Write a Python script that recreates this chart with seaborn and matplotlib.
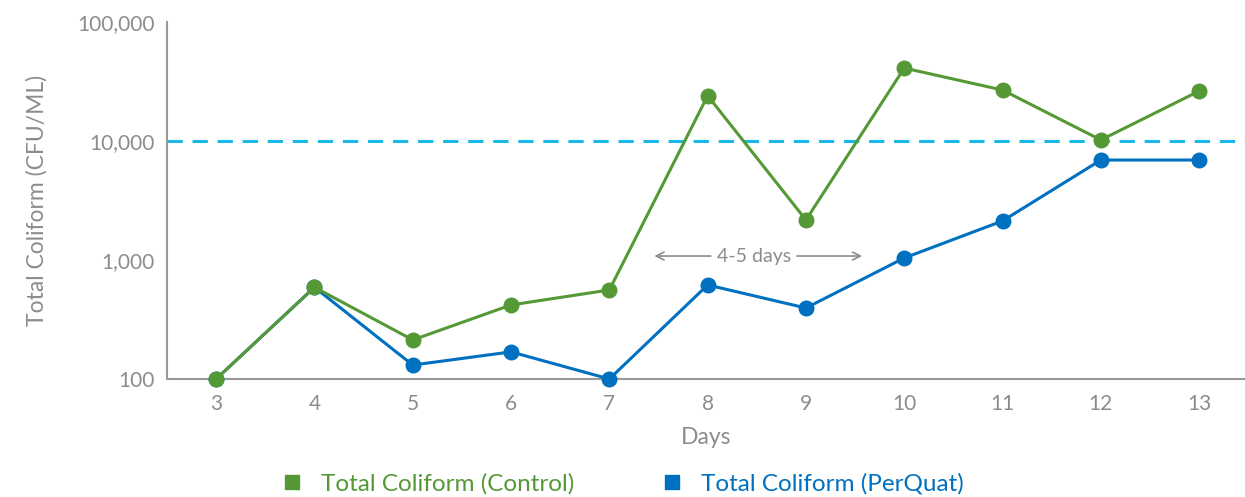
import matplotlib.pyplot as plt
import numpy as np
import pandas as pd
import seaborn as sns
from matplotlib.lines import Line2D

days = [3, 4, 5, 6, 7, 8, 9, 10, 11, 12, 13]
control = [100, 590, 213, 419, 560, 24000, 2170, 41000, 26800, 10200, 26300]
perquat = [100, 590, 131, 169, 100, 617, 395, 1040, 2130, 6920, 6920]
threshold = 10000
series_names = ["Total Coliform (Control)", "Total Coliform (PerQuat)"]

GREEN = "#559937"
BLUE = "#0070c0"
CYAN = "#1ab8e8"
GRAY = "#8c8c8c"

df = pd.DataFrame({"Days": days * 2,
                   "CFU": control + perquat,
                   "series": [series_names[0]] * len(days) + [series_names[1]] * len(days)})

sns.set_style("white")
plt.rcParams["font.family"] = ["Lato", "DejaVu Sans"]

fig = plt.figure(figsize=(12.45, 4.97), dpi=100)
ax = fig.add_axes([167 / 1245, 1 - 379 / 497, 1078 / 1245, 357 / 497])

ax.axhline(threshold, color=CYAN, lw=2.2, ls=(0, (5, 3.2)), zorder=1)

# blue first so green sits on top where they overlap
for name, col, z in [(series_names[1], BLUE, 3), (series_names[0], GREEN, 4)]:
    sns.lineplot(data=df[df.series == name], x="Days", y="CFU", color=col, lw=2.2,
                 marker="o", markersize=11.5, markeredgewidth=0, ax=ax,
                 clip_on=False, zorder=z, legend=False)

ax.set_yscale("log")
ax.set_ylim(100, 100000)
ax.set_xlim(2.5, 2.5 + 1078 / 98.3)
ax.set_yticks([100, 1000, 10000, 100000])
ax.set_yticklabels(["100", "1,000", "10,000", "100,000"])
ax.yaxis.set_minor_locator(plt.NullLocator())
ax.set_xticks(days)
ax.set_xticks(np.arange(3.5, 13, 1), minor=True)

for s in ["top", "right"]:
    ax.spines[s].set_visible(False)
for s in ["left", "bottom"]:
    ax.spines[s].set_color("#999999")
    ax.spines[s].set_linewidth(1.5)
ax.spines["left"].set_bounds(100, 100000)

ax.tick_params(axis="x", which="major", length=0, pad=11, labelsize=15, labelcolor=GRAY)
ax.tick_params(axis="x", which="minor", direction="in", length=12, width=1.3, color="#999999")
ax.tick_params(axis="y", which="major", direction="in", length=12, width=1.3,
               color="#999999", pad=9, labelsize=15, labelcolor=GRAY)

ax.set_xlabel("Days", fontsize=16.5, color=GRAY, labelpad=9)
ax.set_ylabel("Total Coliform (CFU/ML)", fontsize=16.5, color=GRAY, labelpad=21)

# 4-5 days annotation
ay = 1080
ax.annotate("", xy=(7.43, ay), xytext=(8.06, ay),
            arrowprops=dict(arrowstyle="->", color=GRAY, lw=1.2, mutation_scale=14))
ax.annotate("", xy=(9.6, ay), xytext=(8.88, ay),
            arrowprops=dict(arrowstyle="->", color=GRAY, lw=1.2, mutation_scale=14))
ax.text(8.47, ay, "4-5 days", ha="center", va="center", fontsize=14, color=GRAY)

handles = [Line2D([], [], ls="none", marker="s", markersize=10, color=GREEN),
           Line2D([], [], ls="none", marker="s", markersize=10, color=BLUE)]
leg = fig.legend(handles, series_names, loc="center", bbox_to_anchor=(622 / 1245, 1 - 484 / 497),
                 ncol=2, frameon=False, fontsize=17.5, handletextpad=0.7, columnspacing=3.5,
                 handlelength=1.0)
for t, c in zip(leg.get_texts(), [GREEN, BLUE]):
    t.set_color(c)

fig.savefig("out.png", dpi=100)
